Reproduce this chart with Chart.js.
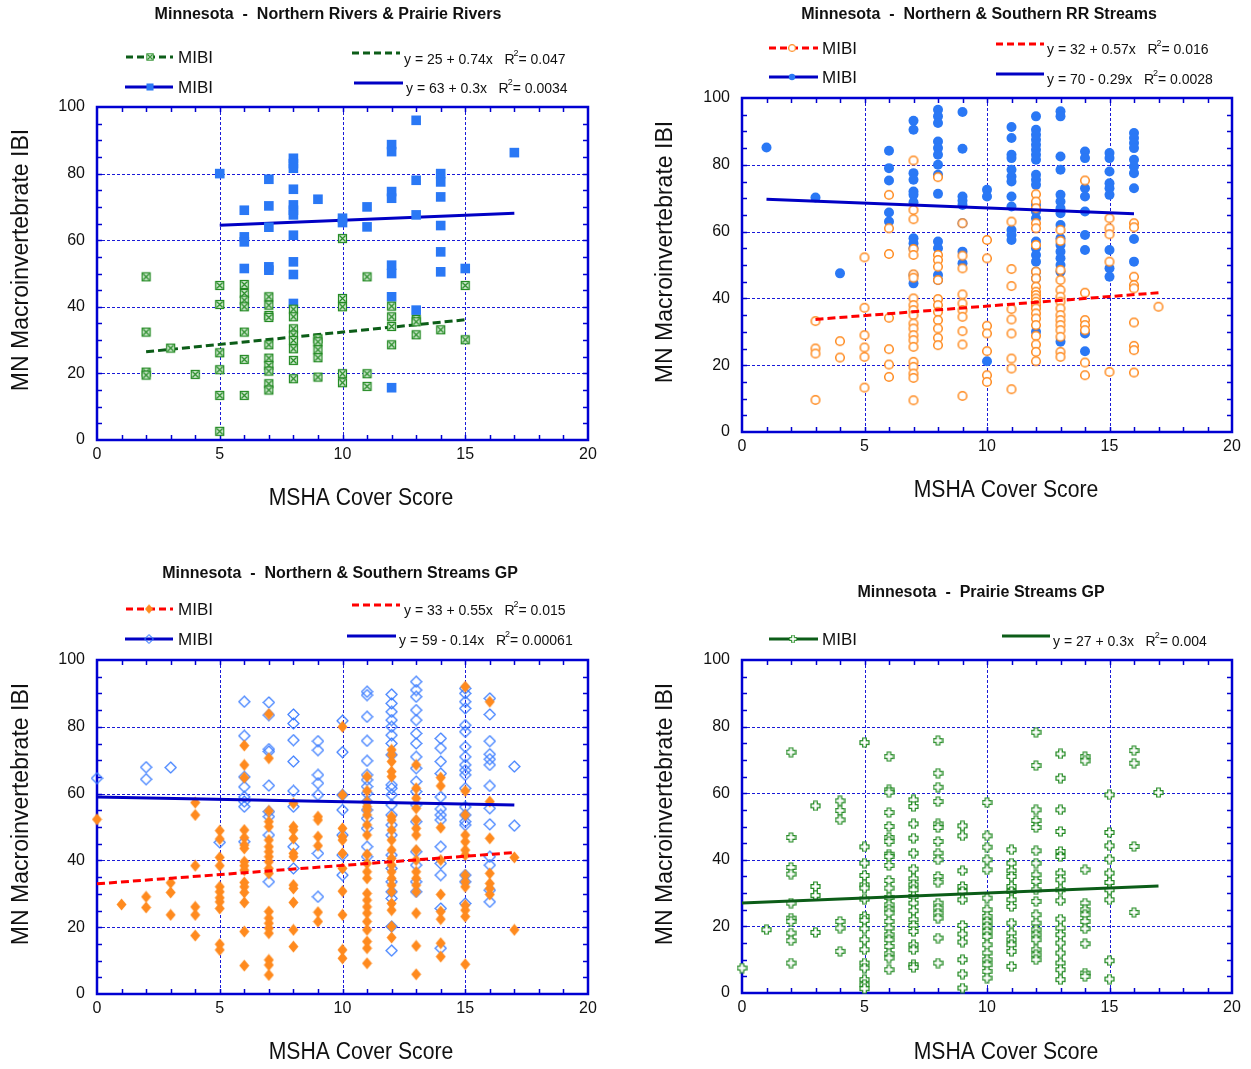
<!DOCTYPE html>
<html lang="en">
<head>
<meta charset="utf-8">
<title>MSHA Cover Score vs MN Macroinvertebrate IBI</title>
<script src="https://cdn.jsdelivr.net/npm/chart.js@4.4.1/dist/chart.umd.min.js"></script>
<style>
  html, body { margin: 0; padding: 0; background: #fff; }
  body { width: 1251px; height: 1069px; position: relative; overflow: hidden; }
  canvas { position: absolute; }
</style>
</head>
<body>
<canvas id="rivers" width="640" height="530" style="left:0;top:0"></canvas>
<canvas id="rrStreams" width="611" height="530" style="left:640px;top:0"></canvas>
<canvas id="gpStreams" width="640" height="529" style="left:0;top:540px"></canvas>
<canvas id="prairie" width="611" height="529" style="left:640px;top:540px"></canvas>
<script>
// ---------- Northern Rivers & Prairie Rivers ----------
const riversAScores = [2, 3, 4, 5, 6, 7, 8, 9, 10, 11, 12, 13, 14, 15];
const riversAMibi = [
  [49, 32.4, 20.4, 19.5],
  [27.6],
  [19.7],
  [46.4, 40.7, 26.2, 21.1, 13.4, 2.6],
  [46.7, 44, 42, 40, 32.4, 24.2, 13.4],
  [43, 40.5, 37.4, 36.8, 28.6, 24.6, 22.4, 20.7, 16.9, 15],
  [39.3, 37, 33.4, 31.5, 29.9, 27.4, 23.9, 18.4],
  [30.4, 29.5, 27.1, 24.7, 18.9],
  [60.5, 42.5, 40, 19.9, 17.2],
  [49, 19.9, 16.1],
  [40.2, 37, 34.1, 28.6],
  [36.2, 35.5, 31.6],
  [33.1],
  [46.4, 30.1]
];
const riversBScores = [5, 6, 7, 8, 9, 10, 11, 12, 13, 14, 15, 17];
const riversBMibi = [
  [80],
  [69, 61, 59.5, 51.5],
  [78.3, 70.3, 63.9, 52, 51],
  [84.6, 83, 81.6, 75.3, 70.6, 69, 67.6, 61.5, 53.5, 49.7, 41],
  [72.3],
  [66.6, 65.3],
  [70, 64],
  [88.7, 86.6, 74.6, 72.6, 52.5, 50, 43, 15.7],
  [96, 78, 67.6, 39],
  [80, 77.5, 73, 64.4, 56.5, 50.5],
  [51.5],
  [86.3]
];
const riversFitIntercept = [25, 63];
const riversFitSlope = [0.74, 0.3];
const riversFitR2 = ['0.047', '0.0034'];
const riversFitRange = [[2, 15], [5, 17]];

// ---------- Northern & Southern RR Streams ----------
const rrAScores = [3, 4, 5, 6, 7, 8, 9, 10, 11, 12, 13, 14, 15, 16, 17];
const rrAMibi = [
  [33.2, 25, 23.5, 9.6],
  [27.2, 22.3],
  [52.3, 37.2, 29, 25.3, 22.5, 13.3],
  [71, 61, 53.3, 34.2, 24.8, 20.2, 16.5],
  [81.3, 66.5, 63.7, 54.8, 53, 47.2, 46.2, 40, 38, 36.5, 35, 32.5, 31, 29, 27.5, 25.5, 21, 19.5, 17.5, 16.2, 9.5],
  [76.3, 53, 51.5, 49.5, 45.5, 39.8, 38, 36, 33.5, 31, 28.2, 26],
  [62.5, 52.8, 49, 41.2, 38.5, 36.5, 34.5, 30.2, 26.2, 10.8],
  [57.5, 52, 31.8, 29.5, 24.2, 17, 15],
  [63, 48.8, 43.7, 36.8, 33.7, 29.5, 22, 19, 12.8],
  [71.2, 69, 67, 62.5, 61, 56, 48, 46, 43.5, 42, 41, 40, 39, 38, 37, 35.5, 34, 32, 28.8, 26.2, 24, 21.2],
  [60.5, 57.2, 48.5, 45.5, 42.5, 40.5, 39, 37, 35, 33.5, 32, 30.5, 28.5, 24, 22.5],
  [75.3, 41.7, 33.5, 32, 30.5, 20.8, 17],
  [64, 61, 59.2, 51, 18],
  [62.5, 61.3, 46.5, 44, 43, 32.8, 25.8, 24.5, 17.8],
  [37.5]
];
const rrBScores = [1, 3, 4, 6, 7, 8, 9, 10, 11, 12, 13, 14, 15, 16];
const rrBMibi = [
  [85.2],
  [70.2],
  [47.5],
  [84.2, 79, 75.3, 65.7, 63],
  [93.2, 90.5, 77.5, 75.5, 72, 71, 68.8, 58, 56.5, 55, 47, 44.5],
  [96.5, 94.5, 92.5, 87, 85, 83, 80, 77, 71.3, 57, 55, 47, 45.5],
  [95.8, 84.8, 70.5, 69.2, 68, 62.5, 54, 50.5],
  [72.5, 70.5, 21.2],
  [91.3, 88, 83, 82, 78.5, 76.5, 75, 70.5, 67.5, 60.5, 59, 57.5],
  [94.5, 90.5, 89, 87.5, 86, 84.5, 83, 81.5, 77, 75.5, 74, 68, 66, 64, 57, 55, 53, 51, 48, 46, 30],
  [96, 94.5, 82.5, 78.5, 71, 69, 67, 65.5, 62, 58, 56, 54, 52, 50, 48, 27],
  [84, 82, 73, 70.5, 66, 59, 54.5, 29.5, 24.2],
  [83.5, 82, 78, 74.5, 73, 71, 54.5, 49, 46.5],
  [89.5, 88, 86.5, 85, 81.5, 79.5, 77.5, 73, 57.8, 51]
];
const rrFitIntercept = [32, 70];
const rrFitSlope = [0.57, -0.29];
const rrFitR2 = ['0.016', '0.0028'];
const rrFitRange = [[3, 17], [1, 16]];

// ---------- Northern & Southern Streams GP ----------
const gpAScores = [0, 1, 2, 3, 4, 5, 6, 7, 8, 9, 10, 11, 12, 13, 14, 15, 16, 17];
const gpAMibi = [
  [52.3],
  [26.8],
  [29.1, 25.9],
  [33.3, 30.4, 23.7],
  [57.3, 53.6, 38.4, 26.1, 23.7, 17.5],
  [48.9, 46.4, 40.9, 38.4, 32.1, 30.6, 28.8, 27.6, 25.6, 14.9, 13.2],
  [74.4, 68.6, 64.8, 49.1, 46.8, 44.6, 43.6, 39.6, 38.4, 37.1, 33.4, 32.1, 30.4, 27.4, 18.7, 8.5],
  [83.8, 70.6, 54.8, 51.6, 50.1, 46.1, 44.1, 42.6, 41.1, 39.6, 37.6, 36.1, 24.7, 22.7, 21.2, 19.7, 18.2, 10.2, 8.7, 5.7],
  [57.1, 50.1, 49.1, 46.6, 42.1, 41.1, 32.6, 31.6, 27.4, 19.2, 14.2],
  [53.1, 52.1, 47.1, 44.4, 24.5, 21.7],
  [80, 59.6, 49.6, 47.1, 46.1, 42.1, 37.6, 30.8, 23.7, 13.2, 10.7],
  [65.1, 60.8, 57.6, 56.1, 55.1, 53.6, 50.6, 47.6, 41.8, 39.1, 36.6, 34.6, 30.1, 28.1, 26.1, 24.2, 21.7, 19.2, 15.7, 13.7, 9.2],
  [73.1, 71.6, 69.6, 66.6, 65.1, 53.1, 52.1, 49.1, 46.1, 43.1, 40.6, 38.6, 36.6, 34.6, 32.6, 30.6, 27.1, 25.1, 20.2, 16.9],
  [68.6, 61.6, 58.6, 55.6, 52.1, 49.6, 47.6, 43.1, 40.1, 36.6, 34.6, 32.6, 30.6, 24.2, 14.4, 5.9],
  [64.8, 62.3, 49.8, 40.1, 29.8, 24.7, 22.4, 15.2, 11.2],
  [92, 60.8, 53.6, 47.6, 45.6, 43.1, 41.6, 35.6, 33.6, 32.1, 26.6, 25.1, 23.2, 8.9],
  [87.5, 57.6, 46.6, 36.1, 33.1, 31.6, 29.8],
  [40.9, 19.2]
];
const gpBScores = [0, 2, 3, 5, 6, 7, 8, 9, 10, 11, 12, 13, 14, 15, 16, 17];
const gpBMibi = [
  [64.6],
  [67.9, 64.3],
  [67.8],
  [45.4],
  [87.5, 77.3, 65, 62, 59, 57.6, 56.1, 45.6],
  [87.3, 83.5, 73.3, 72.6, 62.4, 54.6, 53.1, 47.6, 33.6],
  [83.7, 81, 76, 69.6, 60.8, 56.1, 44.1, 37.6],
  [75.7, 73, 65.6, 63.1, 59.6, 42.1, 29.1],
  [81.8, 72.4, 59.6, 55.1, 47.6, 41.6, 35.6],
  [90.5, 89.5, 83, 75.8, 69.8, 65.6, 64.1, 62.1, 60.1, 57.6, 55.1, 52.6, 49.6, 44.1, 41.1],
  [89.7, 87, 84.5, 82, 80, 77.5, 75, 71.6, 62.6, 61.6, 59.6, 56.6, 53.6, 50.6, 47.6, 41.6, 37.6, 33.6, 30.6, 28.6, 20.2, 13],
  [93.5, 91, 89, 85, 82, 78, 75, 71, 67.6, 63.6, 60.6, 56.6, 51.6, 42.6, 38.6, 33.6, 30.6],
  [76.5, 73.6, 69.6, 66, 59, 55.4, 53.6, 52.1, 44.1, 39.1, 35.6, 25.6, 13.7],
  [91.5, 90, 87.5, 85.5, 80.5, 78.5, 74, 71, 68.6, 67, 65.6, 61.6, 56, 53.6, 51.6, 50.6, 35.6, 33.6, 27.1],
  [88.5, 83.7, 75.7, 71.8, 70.3, 68.6, 62.3, 55.6, 50.8, 41.1, 38.6, 31.1, 27.6],
  [68.1, 50.4]
];
const gpFitIntercept = [33, 59];
const gpFitSlope = [0.55, -0.14];
const gpFitR2 = ['0.015', '0.00061'];
const gpFitRange = [[0, 17], [0, 17]];

// ---------- Prairie Streams GP ----------
const prairieScores = [0, 1, 2, 3, 4, 5, 6, 7, 8, 9, 10, 11, 12, 13, 14, 15, 16, 17];
const prairieMibi = [
  [7.5],
  [19],
  [72.3, 46.7, 37.7, 35.7, 27, 22.5, 21.5, 18, 15.7, 9],
  [56.2, 32, 29.3, 18.2],
  [57.7, 54.8, 52, 21.5, 19.5, 12.5],
  [75.2, 43.9, 39, 35.3, 32.5, 31.5, 28.2, 23, 21.8, 19.3, 16, 13, 9, 7.5, 4, 2.5, 1.3],
  [71, 61, 60.3, 54.2, 50, 46.7, 45.5, 41.7, 41, 38.3, 33.8, 31.5, 28.7, 26.5, 25.2, 24, 21.5, 19.5, 17.5, 16, 14, 11.8, 10.5, 7],
  [58, 56, 50.8, 46.5, 42, 37.2, 34.3, 32.5, 31, 29, 27, 24.7, 22, 20.3, 18.5, 14.5, 13, 8.5, 7.7],
  [75.8, 66, 61.8, 57.5, 50.8, 49.7, 45.5, 42, 40, 35, 33.3, 27, 25.5, 24, 22.5, 16.5, 9],
  [50.2, 47.2, 36.7, 32, 30.5, 28, 20.3, 17.7, 15.3, 10, 5.7, 1.5],
  [57.2, 47.2, 43.8, 40, 37, 28.5, 25, 23, 21.5, 20, 18.5, 17, 14.5, 12, 10, 8.5, 6.5, 4.5],
  [43, 39, 36.7, 35, 32, 30.5, 28, 26, 21, 18, 16, 14.5, 12.5, 8],
  [78.3, 68.3, 55, 51.8, 49.7, 42.7, 39, 35.5, 33.5, 31, 27.5, 23.5, 21, 19, 17.5, 16, 13, 11.5, 10],
  [71.8, 64.5, 55, 48.5, 42.5, 41, 36, 34, 31, 27.7, 22.2, 19.5, 17.5, 15, 12, 9, 7, 4],
  [71, 69.7, 37, 27, 25, 23.5, 21.5, 19.3, 14.8, 6, 5],
  [59.5, 48.2, 44.2, 40.2, 36, 33.2, 31, 28, 9.7, 4.2],
  [72.8, 69, 44, 24.2],
  [60.2]
];
const prairieFitIntercept = [27];
const prairieFitSlope = [0.3];
const prairieFitR2 = ['0.004'];
const prairieFitRange = [[0, 17]];

// ---------- shared styling ----------
const FONT = '"Liberation Sans", Arial, sans-serif';
const FRAME_BLUE = '#0000d2';
const GRID_BLUE = '#1a1ad8';
const MARK_BLUE = '#2a78f5';
const LINE_BLUE = '#0000c4';
const ORANGE = '#ff8a1e';
const RED = '#ff0000';
const MARK_GREEN = '#238a23';
const DARK_GREEN = '#0c5d18';

function toPoints(scores, values) {
  return scores.flatMap((s, i) => values[i].map(v => ({ x: s, y: v })));
}
function fitPoints(b0, b1, range) {
  return range.map(x => ({ x, y: b0 + b1 * x }));
}
function eqText(b0, b1) {
  return 'y = ' + b0 + (b1 < 0 ? ' - ' : ' + ') + Math.abs(b1) + 'x';
}

// small canvases used as point glyphs
function glyph(w, h, paint) {
  const c = document.createElement('canvas');
  c.width = w; c.height = h;
  paint(c.getContext('2d'));
  return c;
}
const crossedSquare = glyph(11, 11, g => {
  g.fillStyle = '#d5ecd5';
  g.fillRect(1, 1, 9, 9);
  g.strokeStyle = MARK_GREEN; g.lineWidth = 1.2;
  g.strokeRect(1.5, 1.5, 8, 8);
  g.beginPath();
  g.moveTo(2.5, 2.5); g.lineTo(8.5, 8.5);
  g.moveTo(8.5, 2.5); g.lineTo(2.5, 8.5);
  g.stroke();
});
const openCircle = glyph(12, 12, g => {
  g.beginPath(); g.arc(6, 6, 4.3, 0, Math.PI * 2);
  g.fillStyle = '#fff'; g.fill();
  g.strokeStyle = ORANGE; g.lineWidth = 1.5; g.stroke();
});
const solidDiamond = glyph(11, 13, g => {
  g.beginPath();
  g.moveTo(5.5, 0.5); g.lineTo(10.5, 6.5); g.lineTo(5.5, 12.5); g.lineTo(0.5, 6.5);
  g.closePath();
  g.fillStyle = ORANGE; g.fill();
});
const openDiamond = glyph(13, 13, g => {
  g.beginPath();
  g.moveTo(6.5, 1); g.lineTo(12, 6.5); g.lineTo(6.5, 12); g.lineTo(1, 6.5);
  g.closePath();
  g.strokeStyle = '#3a7cff'; g.lineWidth = 1.2; g.stroke();
});
const openPlus = glyph(11, 11, g => {
  const p = [[3.7,1],[7.3,1],[7.3,3.7],[10,3.7],[10,7.3],[7.3,7.3],[7.3,10],[3.7,10],[3.7,7.3],[1,7.3],[1,3.7],[3.7,3.7]];
  g.beginPath();
  p.forEach(([x, y], i) => i ? g.lineTo(x, y) : g.moveTo(x, y));
  g.closePath();
  g.fillStyle = '#fff'; g.fill();
  g.strokeStyle = MARK_GREEN; g.lineWidth = 1.2; g.stroke();
});

function pointSet(data, style, order) {
  const base = { type: 'scatter', label: 'MIBI', data, order, showLine: false, clip: false };
  if (style === 'rect') return Object.assign(base, { pointStyle: 'rect', radius: 6.8, backgroundColor: MARK_BLUE, borderWidth: 0 });
  if (style === 'circle') return Object.assign(base, { pointStyle: 'circle', radius: 5, backgroundColor: MARK_BLUE, borderWidth: 0 });
  return Object.assign(base, { pointStyle: style, radius: 5 });
}
function fitSet(data, color, dashed, order) {
  return {
    type: 'scatter', label: 'fit', data, order, showLine: true,
    borderColor: color, borderWidth: 3, borderDash: dashed ? [8, 4] : [],
    pointRadius: 0, fill: false, clip: false
  };
}

function drawGlyph(ctx, ds, x, y, k) {
  const s = ds.pointStyle;
  if (s === 'rect') {
    const h = 4.4 * k;
    ctx.fillStyle = ds.backgroundColor;
    ctx.fillRect(x - h, y - h, 2 * h, 2 * h);
  } else if (s === 'circle') {
    ctx.fillStyle = ds.backgroundColor;
    ctx.beginPath(); ctx.arc(x, y, 4 * k, 0, Math.PI * 2); ctx.fill();
  } else {
    const w = s.width * k, h = s.height * k;
    ctx.drawImage(s, x - w / 2, y - h / 2, w, h);
  }
}

// condensed text: draws at a given size, squeezed horizontally
function squeezedText(ctx, text, x, y, size, squeeze) {
  ctx.save();
  ctx.translate(x, y);
  ctx.scale(squeeze, 1);
  ctx.font = size + 'px ' + FONT;
  ctx.fillText(text, 0, 0);
  ctx.restore();
}

const panelDeco = {
  id: 'panelDeco',
  beforeDatasetsDraw(chart, args, o) {
    const { ctx, chartArea: a, scales: { x, y } } = chart;
    ctx.save();
    // dotted grid at the labelled ticks
    ctx.strokeStyle = GRID_BLUE; ctx.lineWidth = 1; ctx.setLineDash([3, 2]);
    ctx.beginPath();
    x.ticks.forEach(t => {
      if (t.value <= x.min || t.value >= x.max) return;
      const px = Math.round(x.getPixelForValue(t.value)) + 0.5;
      ctx.moveTo(px, a.top); ctx.lineTo(px, a.bottom);
    });
    y.ticks.forEach(t => {
      if (t.value <= y.min || t.value >= y.max) return;
      const py = Math.round(y.getPixelForValue(t.value)) + 0.5;
      ctx.moveTo(a.left, py); ctx.lineTo(a.right, py);
    });
    ctx.stroke();
    ctx.setLineDash([]);
    // inward minor ticks on all four sides
    ctx.strokeStyle = FRAME_BLUE; ctx.lineWidth = 1.5;
    ctx.beginPath();
    for (let v = x.min + 1; v < x.max; v += 1) {
      const px = Math.round(x.getPixelForValue(v)) + 0.5;
      ctx.moveTo(px, a.top); ctx.lineTo(px, a.top + 5);
      ctx.moveTo(px, a.bottom); ctx.lineTo(px, a.bottom - 5);
    }
    for (let v = y.min + 5; v < y.max; v += 5) {
      const py = Math.round(y.getPixelForValue(v)) + 0.5;
      ctx.moveTo(a.left, py); ctx.lineTo(a.left + 5, py);
      ctx.moveTo(a.right, py); ctx.lineTo(a.right - 5, py);
    }
    ctx.stroke();
    // frame
    ctx.lineWidth = 2.5;
    ctx.strokeRect(a.left, a.top, a.right - a.left, a.bottom - a.top);
    ctx.restore();
  },
  afterDraw(chart, args, o) {
    const ctx = chart.ctx;
    const sets = chart.data.datasets;
    ctx.save();
    ctx.fillStyle = '#111';
    ctx.textBaseline = 'middle';
    // panel title
    ctx.font = 'bold 16px ' + FONT;
    ctx.textAlign = 'center';
    ctx.fillText(o.title, o.titleX, o.titleY);
    // legend rows
    o.rows.forEach(r => {
      const pts = sets[r.pts], fit = sets[r.fit];
      ctx.strokeStyle = fit.borderColor; ctx.lineWidth = 3;
      ctx.setLineDash(fit.borderDash.length ? [7, 4] : []);
      ctx.beginPath(); ctx.moveTo(r.sx[0], r.y); ctx.lineTo(r.sx[1], r.y); ctx.stroke();
      ctx.beginPath(); ctx.moveTo(r.ex[0], r.ey); ctx.lineTo(r.ex[1], r.ey); ctx.stroke();
      ctx.setLineDash([]);
      drawGlyph(ctx, pts, r.mx, r.y, 0.8);
      ctx.fillStyle = '#111';
      ctx.textAlign = 'left';
      ctx.font = '17px ' + FONT;
      ctx.fillText(pts.label, r.labelX, r.y + 1);
      const eq = eqText(o.b0[r.k], o.b1[r.k]) + '   R';
      ctx.font = '14px ' + FONT;
      ctx.fillText(eq, r.eqX, r.eqY);
      let w = ctx.measureText(eq).width;
      ctx.font = '9px ' + FONT;
      ctx.fillText('2', r.eqX + w - 1, r.eqY - 6);
      w += ctx.measureText('2').width - 1;
      ctx.font = '14px ' + FONT;
      ctx.fillText('= ' + o.r2[r.k], r.eqX + w, r.eqY);
    });
    // axis titles
    ctx.textAlign = 'center';
    squeezedText(ctx, 'MSHA Cover Score', o.xTitle[0], o.xTitle[1], 23.5, 0.9);
    ctx.translate(o.yTitle[0], o.yTitle[1]);
    ctx.rotate(-Math.PI / 2);
    squeezedText(ctx, 'MN Macroinvertebrate IBI', 0, 0, 23.5, 0.98);
    ctx.restore();
  }
};

function makePanel(id, box, datasets, deco) {
  const tickFont = { family: FONT, size: 16 };
  return new Chart(document.getElementById(id), {
    type: 'scatter',
    data: { datasets },
    options: {
      responsive: false,
      animation: false,
      events: [],
      layout: { padding: { top: box.top, right: box.right, left: 0, bottom: 0 } },
      scales: {
        x: {
          type: 'linear', min: 0, max: 20,
          ticks: { stepSize: 5, padding: 5, color: '#111', font: tickFont, maxRotation: 0 },
          grid: { display: false, drawTicks: false },
          border: { display: false },
          afterFit(s) { s.height = box.xAxisH; }
        },
        y: {
          type: 'linear', min: 0, max: 100,
          ticks: { stepSize: 20, padding: 12, color: '#111', font: tickFont },
          grid: { display: false, drawTicks: false },
          border: { display: false },
          afterFit(s) { s.width = box.yAxisW; }
        }
      },
      plugins: { legend: { display: false }, tooltip: { enabled: false }, panelDeco: deco }
    },
    plugins: [panelDeco]
  });
}

// Northern Rivers & Prairie Rivers
makePanel('rivers', { top: 107, right: 52, xAxisH: 90, yAxisW: 97 }, [
  pointSet(toPoints(riversAScores, riversAMibi), crossedSquare, 0),
  pointSet(toPoints(riversBScores, riversBMibi), 'rect', 1),
  fitSet(fitPoints(riversFitIntercept[0], riversFitSlope[0], riversFitRange[0]), DARK_GREEN, true, 2),
  fitSet(fitPoints(riversFitIntercept[1], riversFitSlope[1], riversFitRange[1]), LINE_BLUE, false, 3)
], {
  title: 'Minnesota  -  Northern Rivers & Prairie Rivers', titleX: 328, titleY: 15,
  b0: riversFitIntercept, b1: riversFitSlope, r2: riversFitR2,
  rows: [
    { pts: 0, fit: 2, k: 0, y: 57, sx: [126, 173], mx: 150, labelX: 178, ex: [352, 400], ey: 53, eqX: 404, eqY: 60 },
    { pts: 1, fit: 3, k: 1, y: 87, sx: [125, 173], mx: 150, labelX: 178, ex: [354, 403], ey: 83, eqX: 406, eqY: 89 }
  ],
  xTitle: [361, 499], yTitle: [22, 260]
});

// Northern & Southern RR Streams
makePanel('rrStreams', { top: 98, right: 19, xAxisH: 98, yAxisW: 102 }, [
  fitSet(fitPoints(rrFitIntercept[0], rrFitSlope[0], rrFitRange[0]), RED, true, 0),
  fitSet(fitPoints(rrFitIntercept[1], rrFitSlope[1], rrFitRange[1]), LINE_BLUE, false, 1),
  pointSet(toPoints(rrAScores, rrAMibi), openCircle, 2),
  pointSet(toPoints(rrBScores, rrBMibi), 'circle', 3)
], {
  title: 'Minnesota  -  Northern & Southern RR Streams', titleX: 339, titleY: 15,
  b0: rrFitIntercept, b1: rrFitSlope, r2: rrFitR2,
  rows: [
    { pts: 2, fit: 0, k: 0, y: 48, sx: [129, 178], mx: 152, labelX: 182, ex: [356, 404], ey: 44, eqX: 407, eqY: 50 },
    { pts: 3, fit: 1, k: 1, y: 77, sx: [129, 178], mx: 152, labelX: 182, ex: [356, 404], ey: 74, eqX: 407, eqY: 80 }
  ],
  xTitle: [366, 491], yTitle: [26, 252]
});

// Northern & Southern Streams GP
makePanel('gpStreams', { top: 120, right: 52, xAxisH: 75, yAxisW: 97 }, [
  fitSet(fitPoints(gpFitIntercept[0], gpFitSlope[0], gpFitRange[0]), RED, true, 0),
  fitSet(fitPoints(gpFitIntercept[1], gpFitSlope[1], gpFitRange[1]), LINE_BLUE, false, 1),
  pointSet(toPoints(gpAScores, gpAMibi), solidDiamond, 2),
  pointSet(toPoints(gpBScores, gpBMibi), openDiamond, 3)
], {
  title: 'Minnesota  -  Northern & Southern Streams GP', titleX: 340, titleY: 34,
  b0: gpFitIntercept, b1: gpFitSlope, r2: gpFitR2,
  rows: [
    { pts: 2, fit: 0, k: 0, y: 69, sx: [126, 173], mx: 149, labelX: 178, ex: [352, 400], ey: 65, eqX: 404, eqY: 71 },
    { pts: 3, fit: 1, k: 1, y: 99, sx: [125, 173], mx: 149, labelX: 178, ex: [347, 396], ey: 96, eqX: 399, eqY: 101 }
  ],
  xTitle: [361, 513], yTitle: [22, 274]
});

// Prairie Streams GP
makePanel('prairie', { top: 120, right: 19, xAxisH: 76, yAxisW: 102 }, [
  fitSet(fitPoints(prairieFitIntercept[0], prairieFitSlope[0], prairieFitRange[0]), DARK_GREEN, false, 0),
  pointSet(toPoints(prairieScores, prairieMibi), openPlus, 1)
], {
  title: 'Minnesota  -  Prairie Streams GP', titleX: 341, titleY: 53,
  b0: prairieFitIntercept, b1: prairieFitSlope, r2: prairieFitR2,
  rows: [
    { pts: 1, fit: 0, k: 0, y: 99, sx: [129, 178], mx: 153, labelX: 182, ex: [362, 410], ey: 96, eqX: 413, eqY: 102 }
  ],
  xTitle: [366, 513], yTitle: [26, 274]
});
</script>
</body>
</html>
